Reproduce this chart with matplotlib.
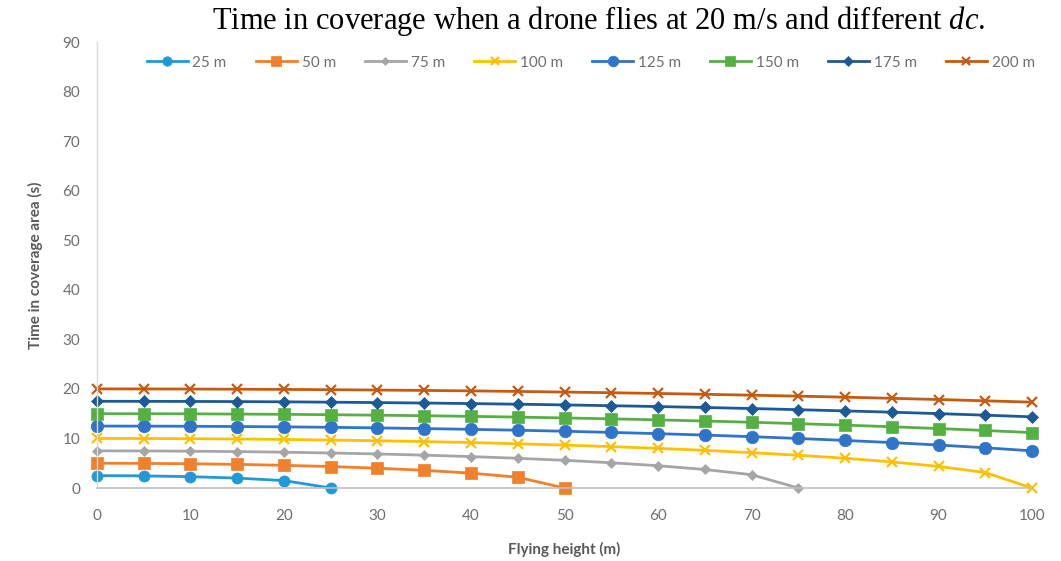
import matplotlib
matplotlib.use("Agg")
import matplotlib.pyplot as plt

plt.rcParams['mathtext.fontset'] = 'custom'
plt.rcParams['mathtext.it'] = 'Liberation Serif:italic'
plt.rcParams['mathtext.rm'] = 'Liberation Serif'

heights = [0, 5, 10, 15, 20, 25, 30, 35, 40, 45, 50, 55, 60, 65, 70, 75, 80, 85, 90, 95, 100]

labels = ["25 m", "50 m", "75 m", "100 m", "125 m", "150 m", "175 m", "200 m"]

t25 = [2.5, 2.45, 2.29, 2.0, 1.5, 0.0]
t50 = [5.0, 4.97, 4.90, 4.77, 4.58, 4.33, 4.0, 3.57, 3.0, 2.18, 0.0]
t75 = [7.5, 7.48, 7.43, 7.35, 7.23, 7.07, 6.87, 6.63, 6.34, 6.0, 5.59, 5.10, 4.5, 3.74, 2.69, 0.0]
t100 = [10.0, 9.99, 9.95, 9.89, 9.80, 9.68, 9.54, 9.37, 9.17, 8.93, 8.66, 8.35, 8.0, 7.60, 7.14,
        6.61, 6.0, 5.27, 4.36, 3.12, 0.0]
t125 = [12.5, 12.49, 12.46, 12.41, 12.34, 12.25, 12.13, 12.0, 11.84, 11.66, 11.46, 11.22, 10.97,
        10.68, 10.36, 10.0, 9.60, 9.17, 8.67, 8.12, 7.5]
t150 = [15.0, 14.99, 14.97, 14.92, 14.87, 14.79, 14.70, 14.59, 14.46, 14.31, 14.14, 13.96, 13.75,
        13.52, 13.27, 12.99, 12.69, 12.36, 12.0, 11.61, 11.18]
t175 = [17.5, 17.49, 17.47, 17.44, 17.39, 17.32, 17.24, 17.15, 17.04, 16.91, 16.77, 16.61, 16.44,
        16.25, 16.04, 15.81, 15.56, 15.30, 15.01, 14.70, 14.36]
t200 = [20.0, 19.99, 19.97, 19.94, 19.90, 19.84, 19.77, 19.69, 19.60, 19.49, 19.36, 19.23, 19.08,
        18.91, 18.73, 18.54, 18.33, 18.10, 17.86, 17.60, 17.32]

series = [t25, t50, t75, t100, t125, t150, t175, t200]
colors = ["#2199D6", "#F07F2E", "#A5A5A5", "#FFC000", "#2F74C6", "#55B044", "#1D5A95", "#C55A11"]
markers = ["o", "s", "D", "x", "o", "s", "D", "x"]
msizes = [8, 8, 5, 7, 9, 8, 6, 7]

fig = plt.figure(figsize=(10.61, 5.61), dpi=100)
ax = fig.add_axes([0.0914, 0.1301, 0.8813, 0.795])

for vals, lab, c, m, ms in zip(series, labels, colors, markers, msizes):
    ax.plot(heights[:len(vals)], vals, color=c, marker=m, markersize=ms, linewidth=2.0,
            label=lab, markeredgewidth=1.6 if m == "x" else 0.5, markeredgecolor=c,
            clip_on=False)

ax.set_xlim(0, 100)
ax.set_ylim(0, 90)
ax.set_xticks(range(0, 101, 10))
ax.set_yticks(range(0, 91, 10))
ax.tick_params(axis='x', length=0, labelsize=11, labelcolor="#6E6E6E", pad=15)
ax.tick_params(axis='y', length=0, labelsize=11, labelcolor="#6E6E6E", pad=12)
for lbl in ax.get_xticklabels() + ax.get_yticklabels():
    lbl.set_fontfamily("Lato")
for s in ["top", "right"]:
    ax.spines[s].set_visible(False)
ax.spines["left"].set_color("#D9D9D9")
ax.spines["bottom"].set_color("#BFBFBF")
ax.spines["left"].set_linewidth(1.0)
ax.spines["bottom"].set_linewidth(1.2)

ax.set_xlabel("Flying height (m)", fontsize=11, fontweight="bold", color="#595959",
              fontfamily="Lato", labelpad=14)
ax.set_ylabel("Time in coverage area (s)", fontsize=11, fontweight="bold", color="#595959",
              fontfamily="Lato", labelpad=14)

leg = ax.legend(loc="upper center", ncol=8, frameon=False, bbox_to_anchor=(0.528, 1.0),
                handlelength=2.7, columnspacing=1.9, handletextpad=0.3, markerscale=0.85,
                prop={"family": "Lato", "size": 11})
for t in leg.get_texts():
    t.set_color("#6E6E6E")

fig.text(0.564, 0.962, r"Time in coverage when a drone flies at 20 m/s and different $dc$.",
         ha="center", va="center", fontsize=22, fontfamily="Liberation Serif")

fig.savefig("out.png", dpi=100, facecolor="white")
